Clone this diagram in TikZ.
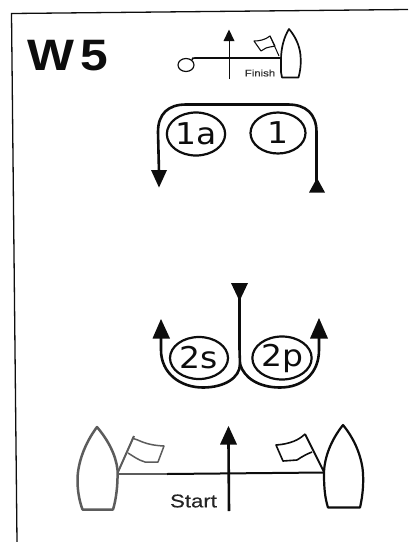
\documentclass[tikz,border=0pt]{standalone}
\usepackage{fontspec}
\setmainfont{DejaVu Sans}
\newfontfamily\titlefont[FakeStretch=1.13]{Liberation Sans Bold}
\newfontfamily\labelfont[FakeStretch=1.2,FakeBold=0.3]{Liberation Sans}
\newfontfamily\ovalfont[FakeStretch=1.1]{DejaVu Sans}
\usetikzlibrary{shapes.geometric}
\definecolor{ink}{gray}{0.05}
\definecolor{greyink}{gray}{0.36}
\tikzset{
  course/.style={draw=ink,line width=2.6pt},
  head/.style={fill=ink,draw=none},
  mark oval/.style={ellipse,draw=ink,line width=2.2pt,inner sep=0pt,font=\ovalfont\fontsize{30}{32}\selectfont,text=ink},
  boat/.style={draw=ink,line width=1.6pt,line join=round},
  grey boat/.style={draw=greyink,line width=2.5pt,line join=round}
}
\begin{document}
\begin{tikzpicture}[x=1pt,y=-1pt]
\useasboundingbox (0,0) rectangle (408,542);
\fill[white] (0,0) rectangle (408,542);
% frame
\draw[ink,line width=1.3pt] (408,9.5) -- (11.5,13.5) -- (17,542);
% title
\node[anchor=center,font=\titlefont\fontsize{44}{46}\selectfont,text=ink] (title) at (68,55.5) {W\kern6pt 5};
% finish line
\node[ellipse,draw=ink,line width=1.2pt,minimum width=16pt,minimum height=13pt,inner sep=0pt] (fmark) at (186,65) {};
\coordinate (fboat) at (281,58);
\draw[ink,line width=1.6pt] (fmark.north east) .. controls (192,58) .. (198,58) -- (fboat);
\coordinate (farrowtail) at (229.5,79);
\coordinate (farrowtip) at (229.5,41);
\draw[ink,line width=1.6pt] (farrowtail) -- (farrowtip);
\fill[head] (229,29.5) -- (234.5,41) -- (223.5,41) -- cycle;
\draw[boat,line width=1.7pt] (289,29) .. controls (284,37) and (281,48) .. (281,60) -- (281,72) -- (282,77.5) -- (298.5,77.5) .. controls (301,68) and (301,62) .. (300.5,55) .. controls (299.5,45) and (295,36) .. (289,29) -- cycle;
\draw[ink,line width=1pt] (279,56) -- (270,36);
\draw[ink,line width=1.1pt,line join=round] (254,41) .. controls (259,41) and (265,40) .. (270,36) -- (275,46) .. controls (271,47) and (268,47) .. (266,48) -- (261,51) -- cycle;
\node[font=\labelfont\fontsize{9.5}{10}\selectfont,text=ink!85] (finish) at (260,73) {Finish};
% leg 1 and 1a
\node[mark oval,minimum width=57pt,minimum height=43pt] (m1a) at (196,134) {1a};
\node[mark oval,minimum width=55pt,minimum height=41pt] (m1) at (278,133) {1};
\coordinate (r1) at (316.5,182);
\coordinate (l1) at (159,172);
\draw[course] (r1) -- (316.5,132) .. controls (316.5,114) and (306,104.5) .. (288,104.5) -- (186,104.5) .. controls (168,104.5) and (158,114) .. (158,132) -- (l1);
\fill[head] (151,170) -- (167,170) -- (159,187.5) -- cycle;
\fill[head] (317,178) -- (325,192.5) -- (309,192.5) -- cycle;
% leg 2
\node[mark oval,minimum width=58pt,minimum height=42pt] (m2s) at (199,358) {2s};
\node[mark oval,minimum width=58pt,minimum height=43pt] (m2p) at (282,358) {2p};
\coordinate (top2) at (239.5,298);
\coordinate (join2) at (240,364);
\coordinate (l2) at (161,336);
\coordinate (r2) at (319,336);
\draw[course] (top2) -- (239.5,345) .. controls (239.5,355) and (240,360) .. (join2);
\draw[course] (l2) -- (161,350) .. controls (161,373) and (180,387.5) .. (203,387.5) .. controls (224,387.5) and (240,378) .. (join2);
\draw[course] (r2) -- (319,350) .. controls (319,373) and (303,387.5) .. (280,387.5) .. controls (259,387.5) and (244,378) .. (join2);
\fill[head] (231,283) -- (248,283) -- (239.5,301) -- cycle;
\fill[head] (161,319) -- (170,338.5) -- (152.5,338.5) -- cycle;
\fill[head] (319,318) -- (328,338.5) -- (310,338.5) -- cycle;
% start line
\coordinate (sl) at (118,474);
\coordinate (sm) at (167,474);
\coordinate (sr) at (324,472.5);
\draw[greyink,line width=2pt] (sl) -- (sm);
\draw[ink,line width=2pt] (sm) -- (sr);
\coordinate (sarrowtail) at (229,511);
\coordinate (sarrowtip) at (228.5,442);
\draw[ink,line width=2.6pt] (sarrowtail) -- (sarrowtip);
\fill[head] (228.5,426) -- (237,444.5) -- (220,444.5) -- cycle;
\node[font=\labelfont\fontsize{18.5}{20}\selectfont,text=ink!90] (start) at (193.5,501) {Start};
% left boat
\draw[grey boat] (97,427) .. controls (85,443) and (77.5,463) .. (77.5,480) .. controls (77.5,490) and (79,500) .. (82.5,509.5) -- (113,509.5) .. controls (116,500) and (118,485) .. (117.5,470) .. controls (116,455) and (108,440) .. (97,427) -- cycle;
\draw[greyink,line width=2pt] (118,472) -- (134,436);
\draw[greyink,line width=1.5pt,line join=round] (132,438) .. controls (140,440) and (144,445) .. (164,446) -- (158,462) -- (145,462) .. controls (138,460) and (133,456) .. (128,453);
% right boat
\draw[boat,line width=2.2pt] (343,425) .. controls (331,440) and (324,458) .. (324,474) .. controls (324,488) and (325,498) .. (328,507.5) -- (360,507.5) .. controls (363,495) and (364,480) .. (362.5,468) .. controls (360,452) and (353,437) .. (343,425) -- cycle;
\draw[ink,line width=1.9pt] (324,472) -- (305,434);
\draw[ink,line width=1.6pt,line join=round] (305,434) .. controls (299,440) and (290,444) .. (276,445) -- (283,461) -- (297,460) .. controls (303,456) and (307,454) .. (312,452);
\end{tikzpicture}
\end{document}
